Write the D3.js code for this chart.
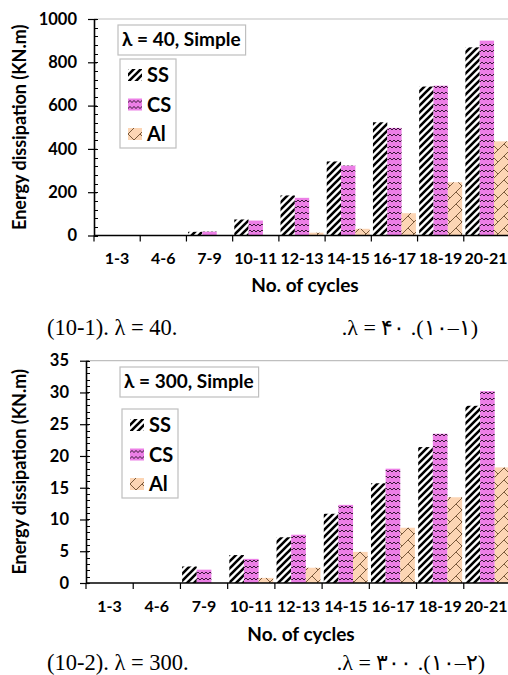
<!DOCTYPE html>
<html>
<head>
<meta charset="utf-8">
<script src="https://cdn.jsdelivr.net/npm/d3@7"></script>
<style>
  body { margin: 0; background: #fff; }
  svg { display: block; }
  .lbl { font-family: Lato, "Open Sans", sans-serif; font-weight: bold; fill: #000; }
  .cap { font-family: "Liberation Serif", "DejaVu Serif", serif; fill: #000; }
</style>
</head>
<body>
<svg id="fig" width="508" height="675"></svg>
<script>
// categories and values
var categories = ["1-3", "4-6", "7-9", "10-11", "12-13", "14-15", "16-17", "18-19", "20-21"];
var seriesNames = ["SS", "CS", "Al"];

// lambda = 40
var ss40 = [0, 0, 17, 74, 185, 342, 523, 688, 869];
var cs40 = [0, 0, 18, 69, 174, 323, 497, 692, 900];
var al40 = [0, 0, 0, 0, 13, 31, 103, 246, 435];
var ticks40 = [0, 200, 400, 600, 800, 1000];

// lambda = 300
var ss300 = [0, 0, 2.6, 4.4, 7.2, 10.9, 15.7, 21.4, 27.9];
var cs300 = [0, 0, 2.1, 3.8, 7.6, 12.3, 18.0, 23.5, 30.2];
var al300 = [0, 0, 0, 0.8, 2.4, 4.9, 8.7, 13.5, 18.2];
var ticks300 = [0, 5, 10, 15, 20, 25, 30, 35];

var svg = d3.select("#fig");
svg.append("rect").attr("width", 508).attr("height", 675).attr("fill", "#fff");

//fill patterns like the excel ones
var defs = svg.append("defs");

var pSS = defs.append("pattern").attr("id", "pSS")
    .attr("patternUnits", "userSpaceOnUse").attr("width", 7).attr("height", 7);
pSS.append("rect").attr("width", 7).attr("height", 7).attr("fill", "#fff");
pSS.append("path").attr("d", "M-2,2 L2,-2 M0,7 L7,0 M5,9 L9,5")
    .attr("stroke", "#000").attr("stroke-width", 2.6);

var pCS = defs.append("pattern").attr("id", "pCS")
    .attr("patternUnits", "userSpaceOnUse").attr("width", 4).attr("height", 6);
pCS.append("rect").attr("width", 4).attr("height", 6).attr("fill", "#ec7fe6");
pCS.append("path").attr("d", "M0,4 L2,2 L4,4")
    .attr("stroke", "#3a1838").attr("stroke-width", 1).attr("fill", "none");

var pAl = defs.append("pattern").attr("id", "pAl")
    .attr("patternUnits", "userSpaceOnUse").attr("width", 12).attr("height", 12);
pAl.append("rect").attr("width", 12).attr("height", 12).attr("fill", "#fcd5b4");
pAl.append("path").attr("d", "M0,12 L12,0 M-1,1 L1,-1 M11,13 L13,11 M0,0 L6,6")
    .attr("stroke", "#7a5a3c").attr("stroke-width", 1).attr("fill", "none");

var fills = ["url(#pSS)", "url(#pCS)", "url(#pAl)"];

var charts = [
    {
        series: [ss40, cs40, al40], ticks: ticks40, minor: 40,
        left: 94, right: 510, top: 19, bottom: 235.5,
        title: "\u03bb = 40, Simple", titleX: 118, titleY: 25,
        legX: 120, legY: 59,
        xLabelY: 264, xTitleY: 292,
        capLeft: "(10-1). \u03bb = 40.", capRight: ".\u03bb = \u06f4\u06f0  .(\u06f1\u06f0\u2013\u06f1)",
        capY: 335, capRightX: 478
    },
    {
        series: [ss300, cs300, al300], ticks: ticks300, minor: 1,
        left: 86, right: 511, top: 360.7, bottom: 583,
        title: "\u03bb = 300, Simple", titleX: 120, titleY: 367,
        legX: 122, legY: 409,
        xLabelY: 612, xTitleY: 641,
        capLeft: "(10-2). \u03bb = 300.", capRight: ".\u03bb = \u06f3\u06f0\u06f0  .(\u06f1\u06f0\u2013\u06f2)",
        capY: 670, capRightX: 485
    }
];

charts.forEach(drawChart);

function drawChart(c) {
    var g = svg.append("g");
    var yMax = c.ticks[c.ticks.length - 1];

    var x0 = d3.scaleBand().domain(categories).range([c.left, c.right]);
    var x1 = d3.scaleBand().domain(seriesNames)
        .range([x0.bandwidth() * 0.035, x0.bandwidth() * 0.965]);
    var y = d3.scaleLinear().domain([0, yMax]).range([c.bottom, c.top]);

    // gray top border of the plot area
    g.append("line")
        .attr("x1", c.left).attr("x2", 508)
        .attr("y1", c.top).attr("y2", c.top)
        .attr("stroke", "#bfbfbf").attr("stroke-width", 1.2);

    // bars
    seriesNames.forEach(function(s, si) {
        g.append("g").selectAll("rect")
            .data(c.series[si])
            .enter().append("rect")
            .attr("x", function(d, i) { return x0(categories[i]) + x1(s); })
            .attr("y", function(d) { return y(d); })
            .attr("width", x1.bandwidth())
            .attr("height", function(d) { return c.bottom - y(d); })
            .attr("fill", fills[si]);
    });

    // y axis: major ticks cross, minor inside
    var minorTicks = d3.range(0, yMax + c.minor / 2, c.minor);
    g.append("g").selectAll("line")
        .data(minorTicks)
        .enter().append("line")
        .attr("x1", c.left).attr("x2", c.left + 4)
        .attr("y1", function(d) { return Math.round(y(d)) + 0.5; })
        .attr("y2", function(d) { return Math.round(y(d)) + 0.5; })
        .attr("stroke", "#000");

    var yAxis = g.append("g")
        .attr("transform", "translate(" + c.left + ",0)")
        .call(d3.axisLeft(y).tickValues(c.ticks).tickFormat(d3.format("d"))
            .tickSize(6).tickPadding(11).tickSizeOuter(0));
    yAxis.selectAll(".tick line").attr("x2", -6).attr("x1", 3).attr("stroke-width", 1.2);
    yAxis.select(".domain").attr("stroke-width", 1.6);
    yAxis.selectAll("text").attr("class", "lbl").style("font-size", "16.5px");
    yAxis.attr("font-family", null).attr("font-size", null);

    // x axis: ticks at the category borders
    var xAxis = g.append("g").attr("class", "xaxis");
    xAxis.append("line")
        .attr("x1", c.left).attr("x2", 508)
        .attr("y1", c.bottom).attr("y2", c.bottom)
        .attr("stroke", "#000").attr("stroke-width", 1.6);
    xAxis.selectAll("line.tk")
        .data(categories)
        .enter().append("line")
        .attr("class", "tk")
        .attr("x1", function(d) { return x0(d); })
        .attr("x2", function(d) { return x0(d); })
        .attr("y1", c.bottom).attr("y2", c.bottom + 6)
        .attr("stroke", "#000").attr("stroke-width", 1.2);
    xAxis.selectAll("text")
        .data(categories)
        .enter().append("text")
        .attr("class", "lbl")
        .attr("x", function(d) { return Math.min(x0(d) + x0.bandwidth() / 2, 486); })
        .attr("y", c.xLabelY)
        .attr("text-anchor", "middle")
        .style("font-size", "16px")
        .text(function(d) { return d; });

    // axis titles
    g.append("text").attr("class", "lbl")
        .attr("x", (c.left + 508) / 2 + 4).attr("y", c.xTitleY)
        .attr("text-anchor", "middle").style("font-size", "19px")
        .text("No. of cycles");

    g.append("text").attr("class", "lbl")
        .attr("transform", "translate(26," + (c.top + c.bottom) / 2 + ") rotate(-90)")
        .attr("text-anchor", "middle").style("font-size", "18px")
        .text("Energy dissipation (KN.m)");

    // title box
    var tb = g.append("g");
    var tRect = tb.append("rect").attr("fill", "#fff").attr("stroke", "#bfbfbf").attr("stroke-width", 1.2);
    var tText = tb.append("text").attr("class", "lbl")
        .attr("x", c.titleX + 4).attr("y", c.titleY + 21)
        .style("font-size", "19px").text(c.title);
    var bb = tText.node().getBBox();
    tRect.attr("x", c.titleX).attr("y", c.titleY)
        .attr("width", bb.width + 9).attr("height", 30);

    // legend
    var leg = g.append("g").attr("transform", "translate(" + c.legX + "," + c.legY + ")");
    leg.append("rect").attr("width", 56).attr("height", 89)
        .attr("fill", "#fff").attr("stroke", "#bfbfbf").attr("stroke-width", 1.2);
    var items = leg.selectAll("g.item")
        .data(seriesNames)
        .enter().append("g")
        .attr("transform", function(d, i) { return "translate(8," + (16 + i * 29.5) + ")"; });
    items.append("rect")
        .attr("y", -6).attr("width", 14).attr("height", 12)
        .attr("fill", function(d, i) { return fills[i]; });
    items.append("text").attr("class", "lbl")
        .attr("x", 19).attr("y", 7)
        .style("font-size", "20px")
        .text(function(d) { return d; });

    // captions under the chart
    g.append("text").attr("class", "cap")
        .attr("x", 47).attr("y", c.capY)
        .style("font-size", "22.5px")
        .text(c.capLeft);
    g.append("text").attr("class", "cap")
        .attr("x", c.capRightX).attr("y", c.capY)
        .attr("text-anchor", "end")
        .attr("direction", "ltr")
        .attr("unicode-bidi", "bidi-override")
        .style("font-size", "22px")
        .text(c.capRight);
}
</script>
</body>
</html>
